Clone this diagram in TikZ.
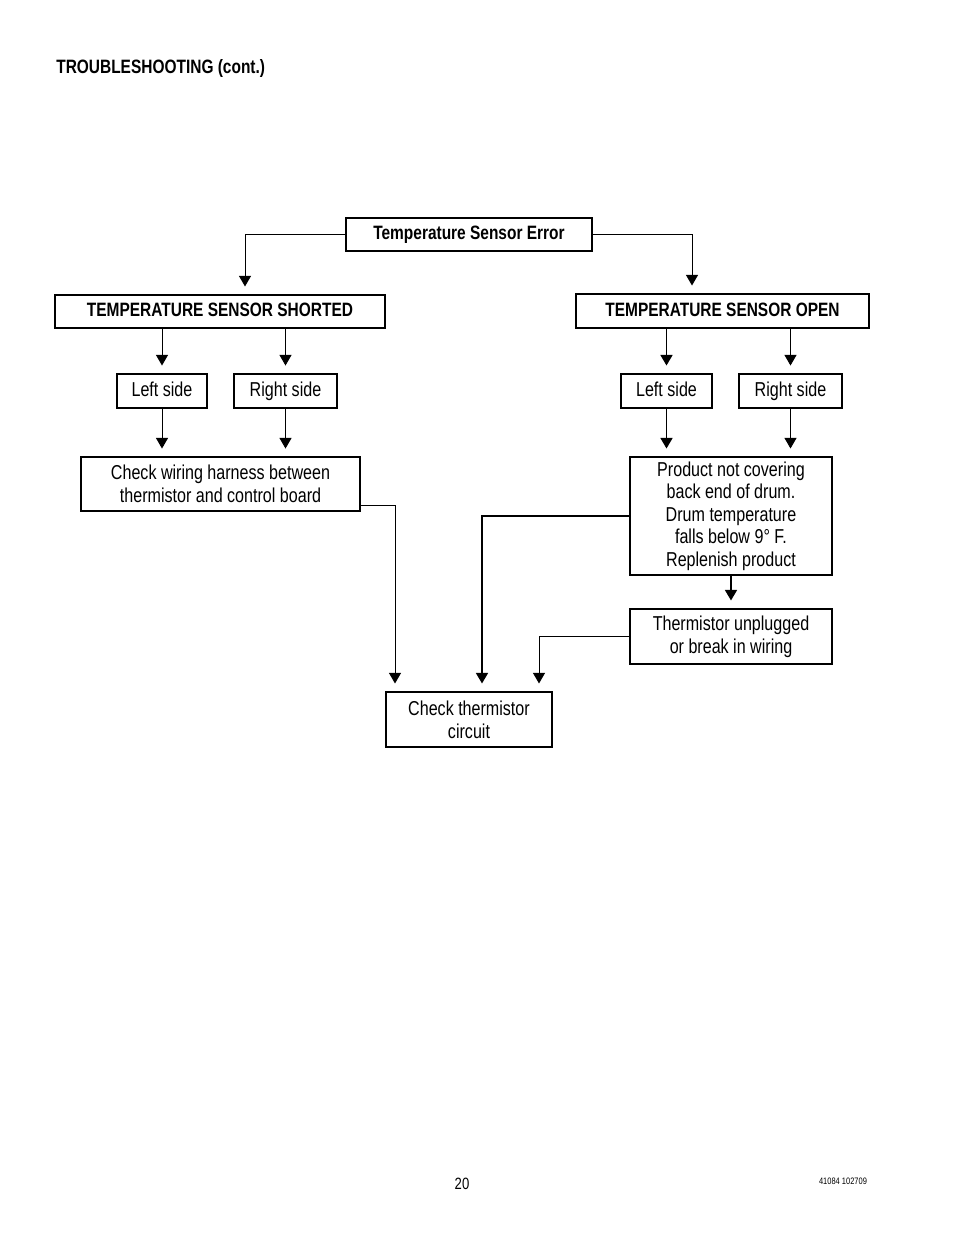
\documentclass[tikz,border=0pt]{standalone}
\usepackage{fontspec}
\setmainfont{Liberation Sans}[FakeStretch=0.8]
\usetikzlibrary{arrows.meta}

\begin{document}
\begin{tikzpicture}[x=0.6415pt, y=-0.6415pt, >={Triangle[width=7.7pt,length=6.8pt]}, font=\fontsize{12.9}{14.5}\selectfont]
\tikzstyle{bx}=[draw, line width=0.9pt, inner sep=0pt, align=center]
\tikzstyle{one}=[text height=0.68em, text depth=0em]
\tikzstyle{hd}=[font=\fontsize{12.4}{14}\selectfont\bfseries]
\tikzstyle{ln}=[->, line width=0.6pt, shorten >=5pt]
\tikzstyle{thk}=[->, line width=1.1pt, shorten >=5pt]

\useasboundingbox (0,0) rectangle (954,1235);

\node[hd, anchor=base west, inner sep=0pt] (ttl) at (56,73) {TROUBLESHOOTING (cont.)};

% top of the tree
\node[bx, hd, one, minimum width=157.8pt, minimum height=21.2pt] (err) at (469,234.5) {Temperature Sensor Error};
\node[bx, hd, one, minimum width=211.7pt, minimum height=21.2pt] (sh) at (220,311.5) {TEMPERATURE SENSOR SHORTED};
\node[bx, hd, one, minimum width=188pt, minimum height=21.8pt] (op) at (722.5,311) {TEMPERATURE SENSOR OPEN};
\draw[ln] (err.west) -| ([shift={(25,0)}]sh.north);
\draw[ln] (err.east) -| ([shift={(-30.5,0)}]op.north);

% shorted branch
\node[bx, one, minimum width=57.7pt, minimum height=21.8pt] (shl) at (162,391) {Left side};
\node[bx, one, minimum width=66.1pt, minimum height=21.8pt] (shr) at (285.5,391) {Right side};
\draw[ln] (sh.south -| shl.north) -- (shl.north);
\draw[ln] (sh.south -| shr.north) -- (shr.north);

\node[bx, minimum width=179pt, minimum height=34.6pt] (wir) at (220.5,484) {Check wiring harness between\\thermistor and control board};
\draw[ln] (shl.south) -- (shl.south |- wir.north);
\draw[ln] (shr.south) -- (shr.south |- wir.north);

% open branch
\node[bx, one, minimum width=58.4pt, minimum height=21.8pt] (opl) at (666.5,391) {Left side};
\node[bx, one, minimum width=66.1pt, minimum height=21.8pt] (opr) at (790.5,391) {Right side};
\draw[thk] (op.south -| opl.north) -- (opl.north);
\draw[ln] (op.south -| opr.north) -- (opr.north);

\node[bx, minimum width=129.6pt, minimum height=75.7pt] (prd) at (731,516) {Product not covering\\back end of drum.\\Drum temperature\\falls below 9° F.\\Replenish product};
\draw[thk] (opl.south) -- (opl.south |- prd.north);
\draw[ln] (opr.south) -- (opr.south |- prd.north);

\node[bx, minimum width=129.6pt, minimum height=35.3pt] (unp) at (731,636.5) {Thermistor unplugged\\or break in wiring};
\draw[thk] (prd.south) -- (unp.north);

% common end
\node[bx, minimum width=106.5pt, minimum height=35.3pt] (chk) at (469,719.5) {Check thermistor\\circuit};
\draw[ln] ([shift={(0,21)}]wir.east) -| ([shift={(-74,0)}]chk.north);
\draw[thk] (prd.west) -| ([shift={(13,0)}]chk.north);
\draw[ln] (unp.west) -| ([shift={(70,0)}]chk.north);

\node[font=\fontsize{10.5}{12}\selectfont] (pg) at (462,1184) {20};
\node[font=\fontsize{6}{7}\selectfont] (doc) at (843,1181) {41084 102709};
\end{tikzpicture}
\end{document}
